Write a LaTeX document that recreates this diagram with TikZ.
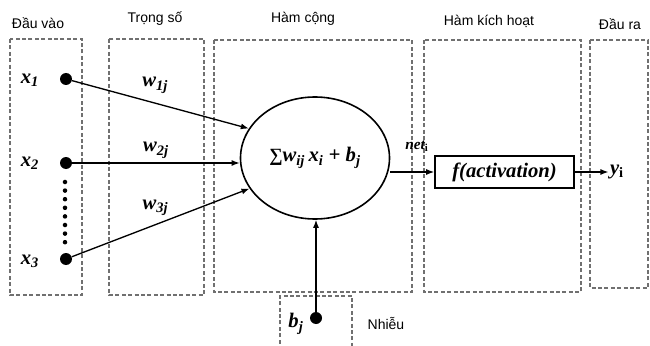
\documentclass[tikz,border=0pt]{standalone}
\usepackage{fontspec}
\setmainfont{Liberation Serif}
\newfontfamily\headfont{Liberation Sans}
\usetikzlibrary{arrows.meta,shapes.geometric}
\definecolor{dashgray}{RGB}{112,112,112}

\begin{document}
\begin{tikzpicture}[
    x=0.75pt, y=-0.75pt,
    panel/.style={draw=dashgray, line width=0.9pt, dash pattern=on 3pt off 1.8pt},
    head/.style={font=\headfont\fontsize{10.5}{12}\selectfont, inner sep=1pt},
    sym/.style={font=\fontsize{15.5}{17}\selectfont\bfseries\itshape, inner sep=1pt},
    smallsym/.style={font=\fontsize{11.5}{13}\selectfont\bfseries\itshape, inner sep=1pt},
    dot/.style={circle, fill=black, minimum size=9pt, inner sep=0pt},
    arrow/.style={-{Latex[length=6pt,width=4.5pt]}, line width=1pt}
]
\useasboundingbox (0,0) rectangle (650,346);

% Group panels
\draw[panel] (10,39) rectangle (82,295);
\draw[panel] (109,39) rectangle (204,295);
\draw[panel] (214,40) rectangle (412,292);
\draw[panel] (424,40) rectangle (581,292);
\draw[panel] (590,40) rectangle (648,288);
\draw[panel] (280,350) |- (352,296) -- (352,350);

% Group labels
\node[head] (hin) at (38,23) {Đầu vào};
\node[head] (hw) at (155,19) {Trọng số};
\node[head] (hsum) at (303,19) {Hàm cộng};
\node[head] (hact) at (489,21) {Hàm kích hoạt};
\node[head] (hout) at (620,24) {Đầu ra};
\node[head] (hnoise) at (386,323) {Nhiễu};

% Inputs
\node[dot] (x1) at (66,79) {};
\node[dot] (x2) at (66,163) {};
\node[dot] (x3) at (66,259) {};
\node[sym] (lx1) at (30,80) {x\textsubscript{1}};
\node[sym] (lx2) at (30,163) {x\textsubscript{2}};
\node[sym] (lx3) at (30,261) {x\textsubscript{3}};
\foreach \k in {0,...,7}
    \fill (65,{182+8.6*\k}) circle (1.7pt);

% Neuron
\node[ellipse, draw, line width=1.2pt, minimum width=111.75pt, minimum height=91.5pt,
      sym] (neuron) at (315,158)
    {{\upshape\fontsize{14}{16}\selectfont ∑}w\textsubscript{ij}\,x\textsubscript{i} + b\textsubscript{j}};

% Weights
\draw[arrow] (x1) -- node[sym, pos=0.47, above=6pt] (w1) {w\textsubscript{1j}} (neuron.156);
\draw[arrow] (x2) -- node[sym, pos=0.5, above=2pt] (w2) {w\textsubscript{2j}} (neuron.west |- x2);
\draw[arrow] (x3) -- node[sym, pos=0.47, above=5pt] (w3) {w\textsubscript{3j}} (neuron.205);

% Bias
\node[dot] (bdot) at (316,318) {};
\node[sym] (lb) at (296,324) {b\textsubscript{j}};
\draw[arrow] (bdot) -- (bdot |- neuron.south);

% Activation and output
\node[draw, line width=1.2pt, minimum width=104.25pt, minimum height=24pt, sym]
    (act) at (504.5,172) {f(activation)};
\node[smallsym] (net) at (417,146) {net\textsubscript{\upshape i}};
\draw[arrow] (neuron.east |- act.west) -- (act.west);
\node[sym] (yout) at (617,172) {y\textsubscript{\upshape i}};
\draw[arrow] (act.east) -- (yout.west);

\end{tikzpicture}
\end{document}
